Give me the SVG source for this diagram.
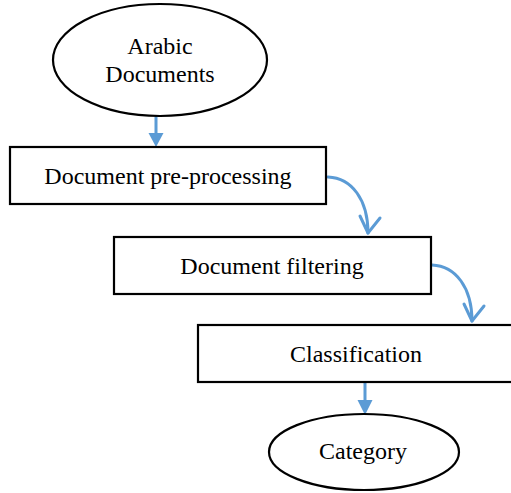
<svg xmlns="http://www.w3.org/2000/svg" width="511" height="493" viewBox="0 0 511 493">
  <style>
    .shape { fill: #ffffff; stroke: #000000; stroke-width: 2.2; }
    .label { font-family: "Liberation Serif", "Times New Roman", serif; font-size: 24px; fill: #000000; text-anchor: middle; }
    .flow { fill: none; stroke: #5B9BD5; stroke-width: 3; stroke-linecap: round; stroke-linejoin: round; }
    .head { fill: #5B9BD5; }
  </style>
  <rect width="511" height="493" fill="#ffffff"/>

  <g id="connectors">
    <!-- Arabic Documents -> pre-processing -->
    <line class="flow" x1="156" y1="117" x2="156" y2="134" stroke-linecap="butt"/>
    <polygon class="head" points="148.5,133 163.5,133 156,147"/>
    <!-- pre-processing -> filtering -->
    <path class="flow" d="M328,177 C352,178 368,200 368,233"/>
    <polyline class="flow" points="360,216 368,233 380,218"/>
    <!-- filtering -> classification -->
    <path class="flow" d="M432,265 C456,266 472,288 472,321"/>
    <polyline class="flow" points="464,304 472,321 484,306"/>
    <!-- classification -> category -->
    <line class="flow" x1="365" y1="383" x2="365" y2="401" stroke-linecap="butt"/>
    <polygon class="head" points="357.5,400 372.5,400 365,415"/>
  </g>

  <g id="arabic-documents">
    <ellipse class="shape" cx="160" cy="60" rx="107" ry="56"/>
    <text class="label" x="160" y="54">Arabic</text>
    <text class="label" x="160" y="82">Documents</text>
  </g>

  <g id="pre-processing">
    <rect class="shape" x="10" y="147" width="316" height="57"/>
    <text class="label" x="168" y="184">Document pre-processing</text>
  </g>

  <g id="filtering">
    <rect class="shape" x="114" y="237" width="317" height="57"/>
    <text class="label" x="272" y="274">Document filtering</text>
  </g>

  <g id="classification">
    <rect class="shape" x="198" y="325" width="318" height="57"/>
    <text class="label" x="356" y="362">Classification</text>
  </g>

  <g id="category">
    <ellipse class="shape" cx="364" cy="452" rx="95" ry="38"/>
    <text class="label" x="363" y="459">Category</text>
  </g>
</svg>
